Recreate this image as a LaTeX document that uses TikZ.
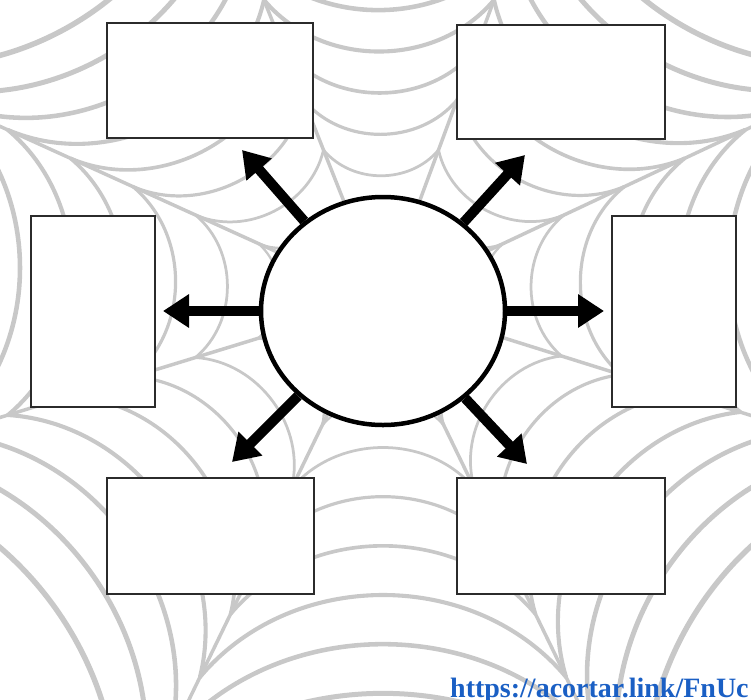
\documentclass[tikz,border=0pt]{standalone}
\usepackage{fontspec}
\setmainfont{Liberation Serif}
\usetikzlibrary{positioning, arrows.meta, shapes.geometric, calc}
\definecolor{webgray}{HTML}{C8C8C8}
\definecolor{boxline}{HTML}{2B2B2B}
\definecolor{linkblue}{HTML}{1A5FC4}
\tikzset{
  webline/.style={draw=webgray, line cap=round},
  idea/.style={draw=boxline, line width=2.2pt, fill=white, inner sep=0pt},
  hubnode/.style={ellipse, draw=black, line width=4.5pt, fill=white,
    minimum width=244pt, minimum height=228pt},
  outarrow/.style={line width=10pt, -{Triangle[length=26pt,width=32pt]}}
}

\begin{document}
\begin{tikzpicture}[x=1pt, y=1pt]
  \useasboundingbox (0,0) rectangle (751,-699);
  \clip (0,0) rectangle (751,-699);

  % spider web in the background
  \coordinate (W) at (383,-300);
  \coordinate (E1) at (745,-130);
  \coordinate (E2) at (494,0);
  \coordinate (E3) at (264,0);
  \coordinate (E4) at (8,-130);
  \coordinate (E5) at (8,-415);
  \coordinate (E6) at (200,-677);
  \coordinate (E7) at (566,-677);
  \coordinate (E8) at (740,-412);
  \foreach \i in {1,...,8}
    \draw[webline, line width=3.5pt] (W) -- ($(W)!1.6!(E\i)$);
  \foreach \k in {1,...,9} {
    \pgfmathsetmacro\f{\k/6}
    \pgfmathsetmacro\lw{1.4+0.45*\k}
    \foreach \i [evaluate=\i as \j using {int(mod(\i,8)+1)}] in {1,...,8}
      \draw[webline, line width=\lw pt]
        ($(W)!\f!(E\i)$) to[bend left=50] ($(W)!\f!(E\j)$);
  }

  % boxes
  \node[idea, minimum width=206pt, minimum height=115pt] (tl) at (210,-80.5) {};
  \node[idea, minimum width=208pt, minimum height=114pt] (tr) at (561,-82) {};
  \node[idea, minimum width=124pt, minimum height=191pt] (lf) at (93,-311.5) {};
  \node[idea, minimum width=124pt, minimum height=191pt] (rt) at (674,-311.5) {};
  \node[idea, minimum width=207pt, minimum height=116pt] (bl) at (210.5,-536) {};
  \node[idea, minimum width=208pt, minimum height=116pt] (br) at (561,-536) {};

  % centre and arrows
  \node[hubnode] (hub) at (383,-311) {};
  \coordinate (tipTL) at (242,-150);
  \coordinate (tipTR) at (525,-155);
  \coordinate (tipL) at (163,-311);
  \coordinate (tipR) at (604,-311);
  \coordinate (tipBL) at (232,-462);
  \coordinate (tipBR) at (527,-464);
  \foreach \t in {tipTL, tipTR, tipL, tipR, tipBL, tipBR}
    \draw[outarrow] (hub) -- (\t);

  \node[anchor=base west, inner sep=0pt, text=linkblue,
    font=\fontsize{28}{30}\selectfont\bfseries] (link) at (450,-697)
    {https://acortar.link/FnUc};
\end{tikzpicture}
\end{document}
